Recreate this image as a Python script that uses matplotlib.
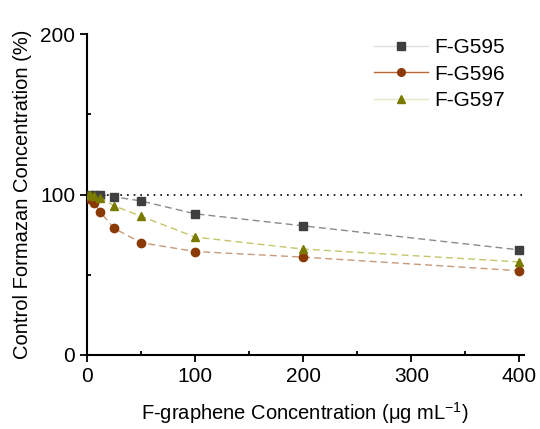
import numpy as np
import matplotlib.pyplot as plt
from matplotlib.lines import Line2D
from matplotlib.ticker import MultipleLocator

plt.rcParams["font.family"] = ["Liberation Sans", "DejaVu Sans"]
plt.rcParams["mathtext.fontset"] = "custom"
plt.rcParams["mathtext.rm"] = "Liberation Sans"

conc = [1.5625, 3.125, 6.25, 12.5, 25, 50, 100, 200, 400]
fg595 = [99.5, 99.0, 99.5, 100.0, 98.6, 96.0, 88.0, 80.5, 65.5]
fg596 = [98.0, 97.0, 95.0, 89.0, 79.0, 70.0, 64.5, 61.0, 52.5]
fg597 = [100.0, 99.5, 99.0, 98.0, 93.0, 86.5, 73.5, 66.0, 58.0]

series = [
    ("F-G595", fg595, "s", "#3f3f3f", "#8a8a8a", "#e0e0e0"),
    ("F-G596", fg596, "o", "#8b3a06", "#c89a78", "#b86a30"),
    ("F-G597", fg597, "^", "#7a7a00", "#c4c46a", "#e8e8c8"),
]

fig = plt.figure(figsize=(5.4, 4.29), dpi=100)
ax = fig.add_axes([0.161, 0.1725, 0.809, 0.748])

ax.axhline(100, color="black", linestyle=(0, (1, 3)), linewidth=1.2, zorder=1)

handles = []
for name, vals, mk, mcol, lcol, legcol in series:
    ax.plot(conc, vals, linestyle=(0, (5, 3)), color=lcol, linewidth=1.0,
            marker=mk, markersize=6, markerfacecolor=mcol,
            markeredgecolor=mcol, zorder=3)
    handles.append(Line2D([], [], color=legcol, linewidth=1.0, marker=mk,
                          markersize=5.5, markerfacecolor=mcol,
                          markeredgecolor=mcol))

ax.set_xlim(0, 404)
ax.set_ylim(0, 200)
ax.xaxis.set_major_locator(MultipleLocator(100))
ax.xaxis.set_minor_locator(MultipleLocator(50))
ax.yaxis.set_major_locator(MultipleLocator(100))
ax.yaxis.set_minor_locator(MultipleLocator(50))
ax.tick_params(which="major", direction="out", length=5, width=1.3,
               labelsize=15)
ax.tick_params(which="minor", direction="in", length=3, width=1.3)

for side in ("top", "right"):
    ax.spines[side].set_visible(False)
for side in ("left", "bottom"):
    ax.spines[side].set_linewidth(1.5)

ax.set_xlabel("F-graphene Concentration (μg mL$^{-1}$)", fontsize=14.5,
              labelpad=10)
ax.set_ylabel("Control Formazan Concentration (%)", fontsize=14.5,
              labelpad=6)

ax.legend(handles, [s[0] for s in series], loc="upper right",
          bbox_to_anchor=(1.0, 1.045), frameon=False, fontsize=15,
          handlelength=2.6, labelspacing=0.35, handletextpad=0.3)

fig.savefig("out.png", dpi=100)
